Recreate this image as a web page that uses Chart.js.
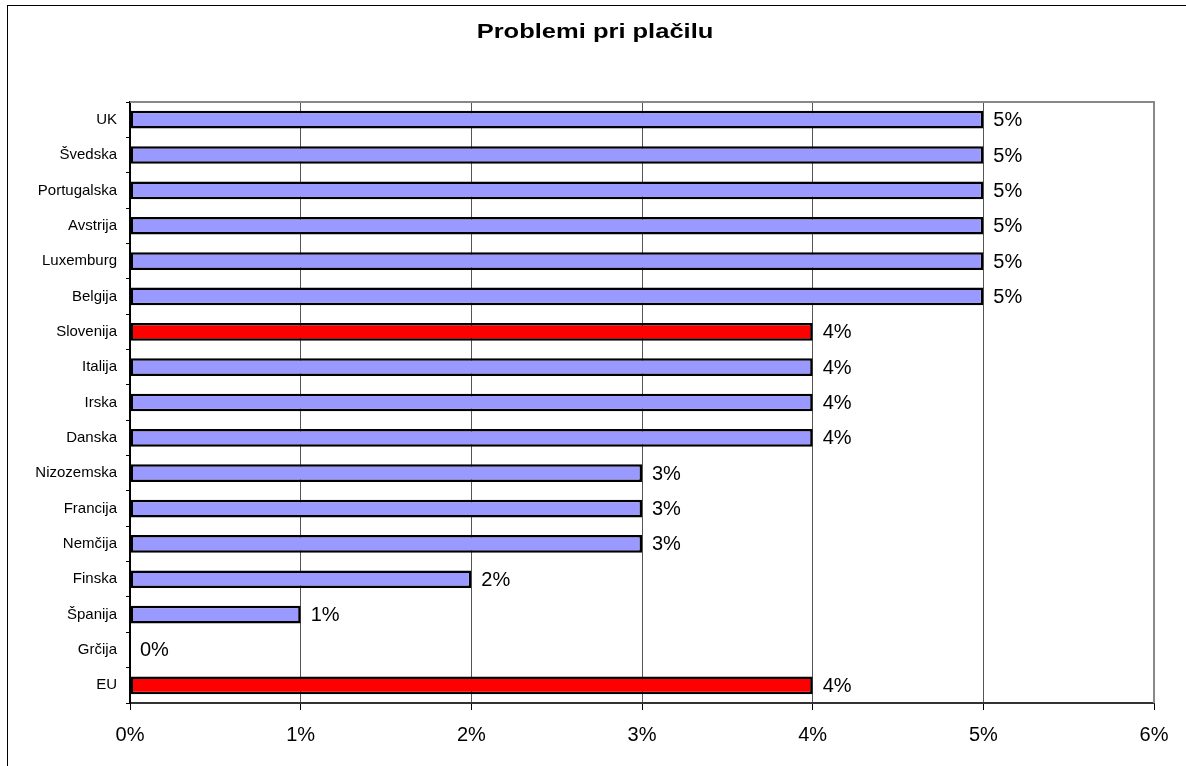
<!DOCTYPE html>
<html>
<head>
<meta charset="utf-8">
<title>Problemi pri plačilu</title>
<script src="https://cdn.jsdelivr.net/npm/chart.js@4/dist/chart.umd.min.js"></script>
<style>
  html, body { margin: 0; padding: 0; background: #fff; }
  #wrap { width: 1186px; height: 766px; }
</style>
</head>
<body>
<div id="wrap"><canvas id="myChart" width="1186" height="766"></canvas></div>
<script>
// podatki
const naslov = 'Problemi pri plačilu';
const drzave = ['UK', 'Švedska', 'Portugalska', 'Avstrija', 'Luxemburg', 'Belgija', 'Slovenija',
  'Italija', 'Irska', 'Danska', 'Nizozemska', 'Francija', 'Nemčija', 'Finska', 'Španija', 'Grčija', 'EU'];
const odstotki = [5, 5, 5, 5, 5, 5, 4, 4, 4, 4, 3, 3, 3, 2, 1, 0, 4];
const poudarjeno = ['Slovenija', 'EU'];
const osX = [0, 1, 2, 3, 4, 5, 6];

const pisava = '"Liberation Sans", Arial, sans-serif';

// okvir, naslov, zgornja in desna meja ter oznake vrednosti
const risanje = {
  id: 'risanje',
  beforeDraw(chart) {
    const ctx = chart.ctx;
    ctx.save();
    ctx.fillStyle = '#fff';
    ctx.fillRect(0, 0, chart.width, chart.height);
    ctx.strokeStyle = '#000';
    ctx.lineWidth = 1;
    ctx.strokeRect(7.5, 5.5, chart.width + 20, chart.height + 20);

    // naslov je malo raztegnjen v širino
    ctx.fillStyle = '#000';
    ctx.font = 'bold 20px ' + pisava;
    ctx.textAlign = 'center';
    ctx.textBaseline = 'alphabetic';
    ctx.translate(595, 37.5);
    ctx.scale(1.275, 1);
    ctx.fillText(naslov, 0, 0);
    ctx.restore();
  },
  afterDatasetsDraw(chart) {
    const ctx = chart.ctx;
    const a = chart.chartArea;
    ctx.save();
    ctx.strokeStyle = '#888';
    ctx.lineWidth = 2;
    ctx.beginPath();
    ctx.moveTo(a.left, a.top);
    ctx.lineTo(a.right, a.top);
    ctx.lineTo(a.right, a.bottom);
    ctx.stroke();

    ctx.fillStyle = '#000';
    ctx.font = '20px ' + pisava;
    ctx.textAlign = 'left';
    ctx.textBaseline = 'middle';
    chart.getDatasetMeta(0).data.forEach((bar, i) => {
      ctx.fillText(odstotki[i] + '%', bar.x + 10, bar.y + 1);
    });
    ctx.restore();
  }
};

new Chart(document.getElementById('myChart'), {
  type: 'bar',
  data: {
    labels: drzave,
    datasets: [{
      data: odstotki,
      backgroundColor: drzave.map(d => poudarjeno.includes(d) ? '#FF0000' : '#9999FF'),
      borderColor: '#000',
      borderWidth: 2.5,
      borderSkipped: false,
      categoryPercentage: 1,
      barPercentage: 0.5
    }]
  },
  options: {
    indexAxis: 'y',
    responsive: false,
    animation: false,
    layout: { padding: { left: 0, right: 32, top: 102, bottom: 0 } },
    plugins: {
      legend: { display: false },
      tooltip: { enabled: false },
      title: { display: false }
    },
    scales: {
      x: {
        min: 0,
        max: 6,
        afterBuildTicks: (axis) => { axis.ticks = osX.map(v => ({ value: v })); },
        afterFit: (axis) => { axis.height = 63; },
        ticks: {
          callback: (v) => v + '%',
          color: '#000',
          font: { family: pisava, size: 20 },
          padding: 13,
          maxRotation: 0
        },
        grid: {
          color: (c) => (c.index === 0 || c.index === 6) ? 'rgba(0,0,0,0)' : '#555',
          lineWidth: 1,
          tickLength: 7,
          tickColor: '#000'
        },
        border: { color: '#333', width: 2 }
      },
      y: {
        afterFit: (axis) => { axis.width = 130; },
        ticks: {
          color: '#000',
          font: { family: pisava, size: 15 },
          padding: 9
        },
        grid: {
          offset: true,
          drawOnChartArea: false,
          tickLength: 4,
          tickColor: '#000'
        },
        border: { color: '#000', width: 2 }
      }
    }
  },
  plugins: [risanje]
});
</script>
</body>
</html>
